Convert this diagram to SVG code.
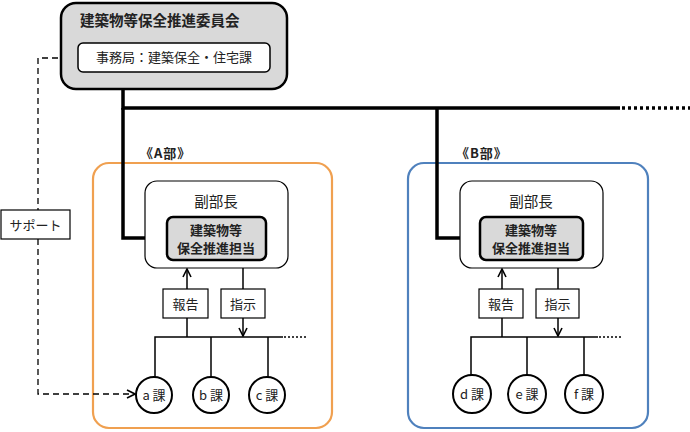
<svg xmlns="http://www.w3.org/2000/svg" width="690" height="432" viewBox="0 0 690 432">
<style>
text{font-family:"Noto Sans CJK JP","Noto Sans",sans-serif;fill:#222}
.b{font-weight:bold}
.t13{font-size:13px}
.t12{font-size:13px}
.t14{font-size:14.5px}
.thick{stroke:#000;stroke-width:3.5;fill:none}
.thin{stroke:#000;stroke-width:1.5;fill:none}
.dash{stroke:#000;stroke-width:1.3;fill:none;stroke-dasharray:6,4}
.gray{fill:#d9d9d9;stroke:#000;stroke-width:2.5}
.white{fill:#fff;stroke:#000;stroke-width:1.2}
.circ{fill:#fff;stroke:#000;stroke-width:2}
</style>
<defs>
<marker id="v" viewBox="0 0 10 10" refX="9" refY="5" markerWidth="10" markerHeight="10" markerUnits="userSpaceOnUse" orient="auto">
<path d="M1,1 L9,5 L1,9" fill="none" stroke="#000" stroke-width="1.6"/>
</marker>
</defs>

<!-- department frames -->
<g id="deptA">
<rect x="93" y="163" width="239" height="265" rx="16" fill="#fff" stroke="#f0a050" stroke-width="2.2"/>
<text x="140" y="158" class="b t13" letter-spacing="1">《A部》</text>
</g>
<g id="deptB">
<rect x="408" y="163" width="240" height="265" rx="16" fill="#fff" stroke="#4f81bd" stroke-width="2.2"/>
<text x="456" y="158" class="b t13" letter-spacing="1">《B部》</text>
</g>

<!-- connectors -->
<g id="connectors">
<polyline class="thick" points="123,89 123,108 620,108"/>
<line x1="622" y1="108" x2="690" y2="108" stroke="#000" stroke-width="3.5" stroke-dasharray="3,3"/>
<polyline class="thick" points="123,108 123,238 167,238"/>
<polyline class="thick" points="437,108 437,238 480,238"/>
<!-- A -->
<line class="thin" x1="187" y1="289" x2="187" y2="269" marker-end="url(#v)"/>
<line class="thin" x1="187" y1="318" x2="187" y2="337"/>
<line class="thin" x1="243" y1="268" x2="243" y2="289"/>
<line class="thin" x1="243" y1="318" x2="243" y2="336" marker-end="url(#v)"/>
<polyline class="thin" points="155,377 155,337 283,337"/>
<line class="thin" x1="211" y1="337" x2="211" y2="377"/>
<line class="thin" x1="268" y1="337" x2="268" y2="377"/>
<line x1="284" y1="337" x2="308" y2="337" stroke="#000" stroke-width="1.5" stroke-dasharray="2,2"/>
<!-- B -->
<line class="thin" x1="502" y1="289" x2="502" y2="269" marker-end="url(#v)"/>
<line class="thin" x1="502" y1="318" x2="502" y2="337"/>
<line class="thin" x1="558" y1="268" x2="558" y2="289"/>
<line class="thin" x1="558" y1="318" x2="558" y2="336" marker-end="url(#v)"/>
<polyline class="thin" points="471,376 471,337 598,337"/>
<line class="thin" x1="527" y1="337" x2="527" y2="376"/>
<line class="thin" x1="584" y1="337" x2="584" y2="376"/>
<line x1="599" y1="337" x2="623" y2="337" stroke="#000" stroke-width="1.5" stroke-dasharray="2,2"/>
<!-- support -->
<polyline class="dash" points="78,58 38,58 38,210"/>
<polyline class="dash" points="38,239 38,394 135,394" marker-end="url(#v)"/>
</g>

<g id="committee">
<rect x="61" y="3" width="226" height="86" rx="15" class="gray"/>
<text x="80" y="26" class="b" font-size="14.5">建築物等保全推進委員会</text>
</g>
<g id="secretariat">
<rect x="78" y="43" width="192" height="29" rx="5" fill="#fff" stroke="#000" stroke-width="1.5"/>
<text x="174" y="62" class="t13" text-anchor="middle">事務局：建築保全・住宅課</text>
</g>

<g id="support">
<rect x="1" y="210" width="69" height="29" class="white"/>
<text x="35.5" y="229.5" class="t12" text-anchor="middle">サポート</text>
</g>

<!-- A nodes -->
<g id="A-fukubuchou">
<rect x="145" y="181" width="143" height="87" rx="12" class="white"/>
<text x="216" y="207" class="t14" text-anchor="middle">副部長</text>
</g>
<g id="A-tantou">
<rect x="167" y="217" width="99" height="43" rx="6" class="gray"/>
<text x="216" y="235" class="b t13" text-anchor="middle">建築物等</text>
<text x="216" y="253" class="b t13" text-anchor="middle">保全推進担当</text>
</g>
<g id="A-houkoku">
<rect x="163" y="289" width="45" height="29" class="white"/>
<text x="185.5" y="308.5" class="t12" text-anchor="middle">報告</text>
</g>
<g id="A-shiji">
<rect x="221" y="289" width="44" height="29" class="white"/>
<text x="243" y="308.5" class="t12" text-anchor="middle">指示</text>
</g>
<g id="A-a"><circle cx="154" cy="395" r="18" class="circ"/><text x="154" y="399.5" class="t12" text-anchor="middle">a 課</text></g>
<g id="A-b"><circle cx="211" cy="395" r="18" class="circ"/><text x="211" y="399.5" class="t12" text-anchor="middle">b 課</text></g>
<g id="A-c"><circle cx="267" cy="395" r="18" class="circ"/><text x="267" y="399.5" class="t12" text-anchor="middle">c 課</text></g>

<!-- B nodes -->
<g id="B-fukubuchou">
<rect x="460" y="181" width="143" height="87" rx="12" class="white"/>
<text x="531" y="207" class="t14" text-anchor="middle">副部長</text>
</g>
<g id="B-tantou">
<rect x="480" y="217" width="103" height="43" rx="6" class="gray"/>
<text x="531" y="235" class="b t13" text-anchor="middle">建築物等</text>
<text x="531" y="253" class="b t13" text-anchor="middle">保全推進担当</text>
</g>
<g id="B-houkoku">
<rect x="479" y="289" width="44" height="29" class="white"/>
<text x="501" y="308.5" class="t12" text-anchor="middle">報告</text>
</g>
<g id="B-shiji">
<rect x="536" y="289" width="43" height="29" class="white"/>
<text x="557.5" y="308.5" class="t12" text-anchor="middle">指示</text>
</g>
<g id="B-d"><circle cx="472" cy="394" r="19" class="circ"/><text x="472" y="398.5" class="t12" text-anchor="middle">d 課</text></g>
<g id="B-e"><circle cx="527" cy="394" r="19" class="circ"/><text x="527" y="398.5" class="t12" text-anchor="middle">e 課</text></g>
<g id="B-f"><circle cx="584" cy="394" r="19" class="circ"/><text x="584" y="398.5" class="t12" text-anchor="middle">f 課</text></g>
</svg>
